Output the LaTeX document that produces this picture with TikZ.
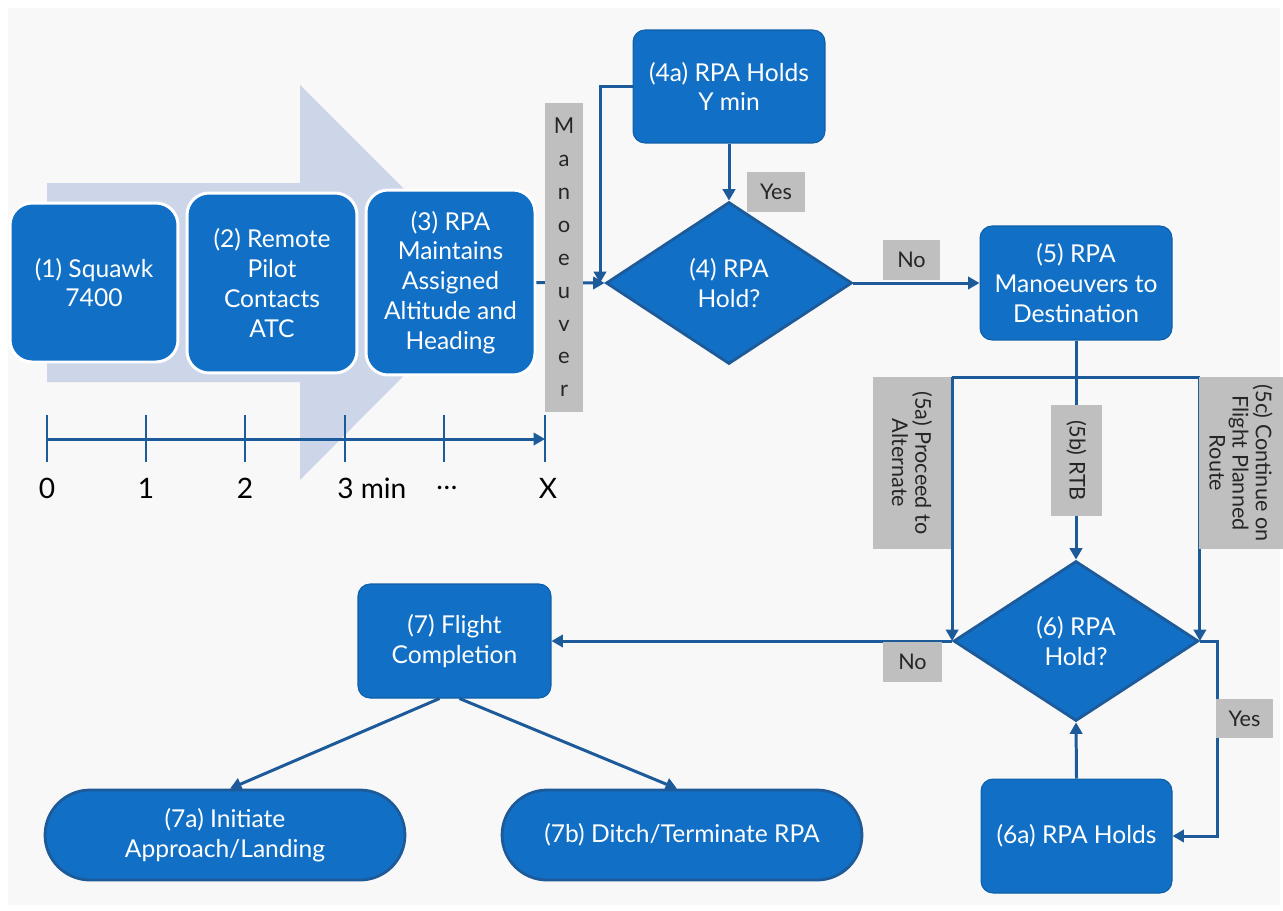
\documentclass[tikz,border=0pt]{standalone}
\usepackage{fontspec}
\setmainfont{Lato}
\usetikzlibrary{shapes.geometric,arrows.meta}
\definecolor{boxblue}{RGB}{17,112,198}
\definecolor{lineblue}{RGB}{29,90,153}
\definecolor{tagray}{RGB}{191,191,191}
\definecolor{arrowbg}{RGB}{205,213,232}
\definecolor{pagebg}{RGB}{248,248,248}
\newcommand{\boxfont}{\fontsize{14}{17}\selectfont}
\newcommand{\tagfont}{\fontsize{12.3}{13.2}\selectfont}
\newcommand{\axisfont}{\fontsize{16}{18}\selectfont}

\begin{document}
\begin{tikzpicture}[x=0.02cm, y=-0.02cm,
    stage/.style={rectangle, rounded corners=0.44cm, fill=boxblue, draw=white, line width=1.7pt,
        text=white, align=center, font=\boxfont, inner sep=2pt},
    task/.style={rectangle, rounded corners=0.24cm, fill=boxblue, draw=boxblue!85!black, line width=0.6pt,
        text=white, align=center, font=\boxfont, minimum width=3.84cm, minimum height=2.28cm},
    ending/.style={rectangle, rounded corners=0.9cm, fill=boxblue, draw=lineblue, line width=1.6pt,
        text=white, align=center, font=\boxfont, minimum width=7.2cm, minimum height=1.8cm},
    decide/.style={diamond, fill=boxblue, draw=lineblue, line width=1.6pt, text=white,
        align=center, font=\boxfont, inner sep=0pt},
    tag/.style={rectangle, fill=tagray, text=black!85, align=center, font=\tagfont, inner sep=1pt},
    link/.style={draw=lineblue, line width=1.7pt},
    flow/.style={link, -{Triangle[length=6.5pt,width=7pt]}},
    tick/.style={draw=lineblue, line width=1.4pt}]
    % page
    \fill[white] (0,0) rectangle (1283,910);
    \fill[pagebg] (8,8) rectangle (1280,905);
    % big arrow behind the first stages
    \fill[arrowbg] (47,183) -- (300,183) -- (300,85) -- (497,282) -- (300,480) -- (300,382) -- (47,382) -- cycle;
    % time line
    \foreach \x in {47,146,245,345,444,545}
        \draw[tick] (\x,415) -- (\x,462);
    \draw[flow] (47,439) -- (545,439);
    \node[font=\axisfont] (t0) at (47,488) {0};
    \node[font=\axisfont] (t1) at (146,488) {1};
    \node[font=\axisfont] (t2) at (245,488) {2};
    \node[font=\axisfont, anchor=west, inner sep=0pt] (t3) at (337,488) {3 min};
    \node[font=\axisfont] (t4) at (447,488) {\dots};
    \node[font=\axisfont] (tx) at (548,488) {X};
    % stages 1 to 3
    \node[stage, minimum width=3.36cm, minimum height=3.18cm] (b1) at (94,282.5) {(1) Squawk\\7400};
    \node[stage, minimum width=3.4cm, minimum height=3.6cm] (b2) at (272,283) {(2) Remote\\Pilot\\Contacts\\ATC};
    \node[stage, minimum width=3.38cm, minimum height=3.7cm] (b3) at (450.5,282.5) {(3) RPA\\Maintains\\Assigned\\Altitude and\\Heading};
    % decision 4
    \node[decide, minimum width=4.92cm, minimum height=3.24cm] (d4) at (729,283) {(4) RPA\\Hold?};
    \node[task, minimum height=2.26cm] (b4a) at (729,86.5) {(4a) RPA Holds\\Y min};
    \node[task] (b5) at (1076,283) {(5) RPA\\Manoeuvers to\\Destination};
    \coordinate (j4) at (600,283);
    \draw[flow] (b3.east) -- (d4.west);
    \node[tag, minimum width=0.76cm, minimum height=6.18cm, font=\fontsize{12.5}{18.7}\selectfont] (man) at (564,257.5)
        {M\\a\\n\\o\\e\\u\\v\\e\\r};
    \draw[flow] (b4a.west) -| (j4);
    \draw[flow] (b4a.south) -- (d4.north);
    \node[tag, minimum width=1.16cm, minimum height=0.8cm] (yes4) at (776,192) {Yes};
    \draw[flow] (d4.east) -- (b5.west);
    \node[tag, minimum width=1.14cm, minimum height=0.8cm] (no4) at (911.5,260) {No};
    % decision 6
    \node[decide, minimum width=4.9cm, minimum height=3.2cm] (d6) at (1076,641) {(6) RPA\\Hold?};
    \node[task, minimum width=3.82cm] (b6a) at (1076.5,836) {(6a) RPA Holds};
    \coordinate (split) at (1076,377);
    \draw[link] (d6.west |- split) -- (d6.east |- split);
    \draw[flow] (d6.west |- split) -- (d6.west);
    \draw[flow] (d6.east |- split) -- (d6.east);
    \draw[flow] (b5.south) -- (d6.north);
    \node[tag, rotate=-90, minimum width=3.44cm, minimum height=1.56cm] (p5a) at (912,463) {(5a) Proceed to\\Alternate};
    \node[tag, rotate=-90, minimum width=2.22cm, minimum height=1.02cm] (p5b) at (1076.5,460.5) {(5b) RTB};
    \node[tag, rotate=-90, minimum width=3.44cm, minimum height=1.68cm] (p5c) at (1241,463) {(5c) Continue on\\Flight Planned\\Route};
    \draw[flow] (b6a.north) -- (d6.south);
    \draw[flow] (d6.east) -- ++(18,0) |- (b6a.east);
    \node[tag, minimum width=1.14cm, minimum height=0.78cm] (yes6) at (1244.5,718.5) {Yes};
    % completion
    \node[task, minimum width=3.86cm] (b7) at (454.5,641) {(7) Flight\\Completion};
    \draw[flow] (d6.west) -- (b7.east);
    \node[tag, minimum width=1.18cm, minimum height=0.8cm] (no6) at (912.5,662) {No};
    \node[ending] (b7a) at (225,835) {(7a) Initiate\\Approach/Landing};
    \node[ending] (b7b) at (682,835) {(7b) Ditch/Terminate RPA};
    \draw[flow] ([xshift=-0.3cm]b7.south) -- ([xshift=0.1cm]b7a.north);
    \draw[flow] ([xshift=0.1cm]b7.south) -- ([xshift=-0.1cm]b7b.north);
\end{tikzpicture}
\end{document}
